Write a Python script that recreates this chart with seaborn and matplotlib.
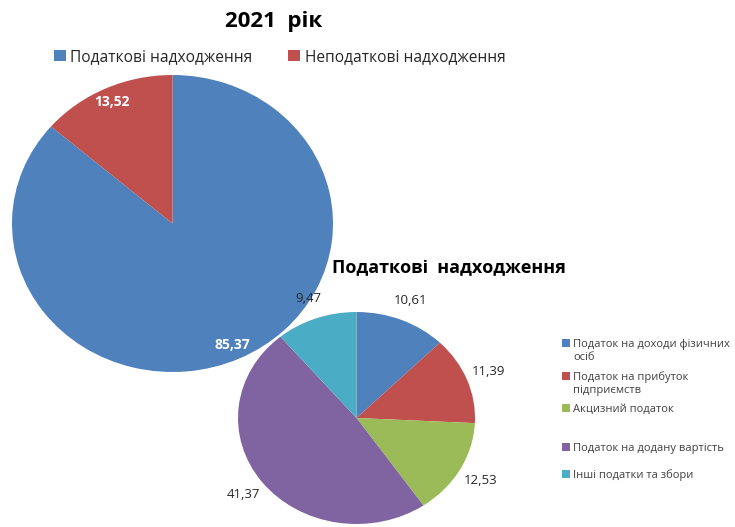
import matplotlib
matplotlib.use("Agg")
import matplotlib.pyplot as plt
import seaborn as sns

# Revenue structure, 2021
year_title = "2021  рік"
main_categories = ["Податкові надходження", "Неподаткові надходження"]
main_values = [85.37, 13.52]
main_colors = ["#4F81BD", "#C0504D"]

# Breakdown of tax revenue
tax_title = "Податкові  надходження"
tax_categories = [
    "Податок на доходи фізичних\nосіб",
    "Податок на прибуток\nпідприємств",
    "Акцизний податок",
    "Податок на додану вартість",
    "Інші податки та збори",
]
tax_values = [10.61, 11.39, 12.53, 41.37, 9.47]
tax_colors = ["#4F81BD", "#C0504D", "#9BBB59", "#8064A2", "#4BACC6"]

sns.set_theme(style="white")
plt.rcParams["font.family"] = ["Open Sans", "DejaVu Sans"]

W, H = 735, 527
fig = plt.figure(figsize=(W / 100, H / 100), dpi=100)
fig.patch.set_facecolor("white")


def box(x0, y0, x1, y1):
    """Axes rectangle from pixel edges measured from the top-left corner."""
    return [x0 / W, 1 - y1 / H, (x1 - x0) / W, (y1 - y0) / H]


def fmt(v):
    return f"{v:.2f}".replace(".", ",")


flat = dict(linewidth=0, edgecolor="none")

# Large pie: tax vs non-tax revenue
ax1 = fig.add_axes(box(12, 75, 333, 372))
wedges1, _ = ax1.pie(
    main_values,
    labels=[fmt(v) for v in main_values],
    colors=main_colors,
    startangle=90,
    counterclock=False,
    labeldistance=0.9,
    wedgeprops=flat,
    textprops=dict(color="white", fontsize=10, fontweight="bold",
                   ha="center", va="center"),
)
ax1.set_aspect("auto")
ax1.set_xlim(-1, 1)
ax1.set_ylim(-1, 1)

fig.text(274 / W, 1 - 22 / H, year_title, ha="center", va="center",
         fontsize=16, fontweight="bold", color="black")

fig.legend(
    wedges1, main_categories,
    loc="center left", bbox_to_anchor=(54 / W, 1 - 57 / H),
    ncol=2, frameon=False, fontsize=11.2,
    handlelength=0.75, handleheight=0.65, handletextpad=0.3,
    columnspacing=2.3, borderpad=0, borderaxespad=0,
    labelcolor="#262626",
)

# Small pie: structure of tax revenue
ax2 = fig.add_axes(box(238, 312, 475, 524))
wedges2, _ = ax2.pie(
    tax_values,
    labels=[fmt(v) for v in tax_values],
    colors=tax_colors,
    startangle=90,
    counterclock=False,
    labeldistance=1.2,
    wedgeprops=flat,
    textprops=dict(color="#262626", fontsize=9.5,
                   ha="center", va="center"),
)
ax2.set_aspect("auto")
ax2.set_xlim(-1, 1)
ax2.set_ylim(-1, 1)

fig.text(449 / W, 1 - 268 / H, tax_title, ha="center", va="center",
         fontsize=13, fontweight="bold", color="black")

# Side legend: one row per category, the marker sits on the first line
# and any wrapped continuation is set underneath it.
row_y = [344, 377, 409, 448, 475]
for wedge, cat, y in zip(wedges2, tax_categories, row_y):
    first, *rest = cat.split("\n")
    fig.legend(
        [wedge], [first],
        loc="center left", bbox_to_anchor=(562 / W, 1 - y / H),
        frameon=False, fontsize=8,
        handlelength=0.7, handleheight=0.7, handletextpad=0.3,
        borderpad=0, borderaxespad=0, labelcolor="#404040",
    )
    for k, line in enumerate(rest, start=1):
        fig.text(573 / W, 1 - (y + 13 * k) / H, line, ha="left",
                 va="center", fontsize=8, color="#404040")

fig.savefig("out.png", dpi=100, facecolor="white")
